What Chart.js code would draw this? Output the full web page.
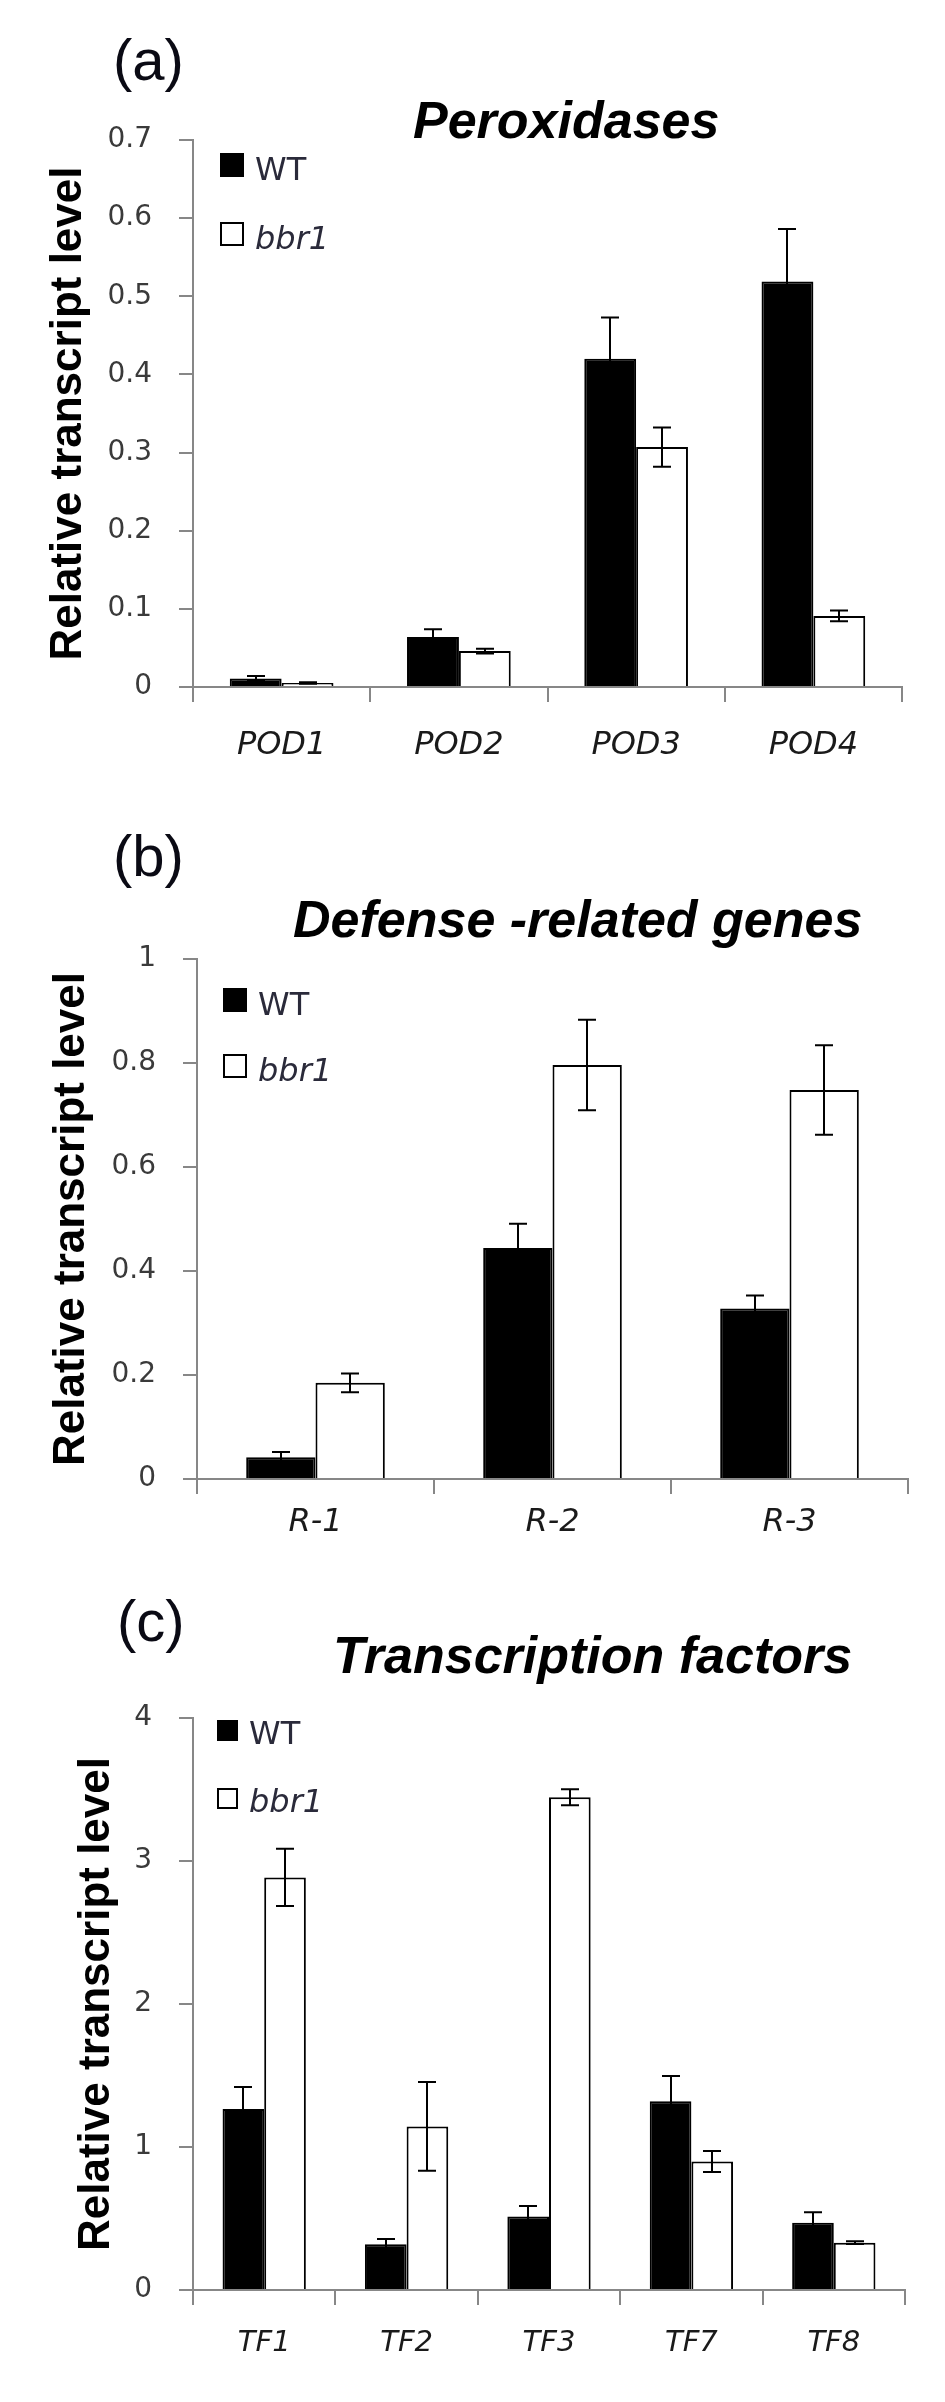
<!DOCTYPE html>
<html>
<head>
<meta charset="utf-8">
<script src="https://cdn.jsdelivr.net/npm/chart.js@4.4.1/dist/chart.umd.min.js"></script>
<style>
  body { margin: 0; background: #ffffff; }
  canvas { position: absolute; left: 0; }
</style>
</head>
<body>
<canvas id="graficaA" width="945" height="780" style="top:0px"></canvas>
<canvas id="graficaB" width="945" height="800" style="top:780px"></canvas>
<canvas id="graficaC" width="945" height="822" style="top:1580px"></canvas>
<script>
// 1. Datos
const series = ['WT', 'bbr1'];

// (a) Peroxidases
const genesPod = ['POD1', 'POD2', 'POD3', 'POD4'];
const wtPod = [0.011, 0.064, 0.420, 0.519];
const wtPodErr = [0.003, 0.010, 0.053, 0.067];
const bbrPod = [0.005, 0.046, 0.307, 0.091];
const bbrPodErr = [0.001, 0.003, 0.025, 0.007];
const ticksPod = ['0', '0.1', '0.2', '0.3', '0.4', '0.5', '0.6', '0.7'];

// (b) Defense-related genes
const genesR = ['R-1', 'R-2', 'R-3'];
const wtR = [0.042, 0.444, 0.328];
const wtRErr = [0.010, 0.047, 0.025];
const bbrR = [0.185, 0.796, 0.748];
const bbrRErr = [0.018, 0.087, 0.086];
const ticksR = ['0', '0.2', '0.4', '0.6', '0.8', '1'];

// (c) Transcription factors
const genesTF = ['TF1', 'TF2', 'TF3', 'TF7', 'TF8'];
const wtTF = [1.265, 0.320, 0.514, 1.320, 0.470];
const wtTFErr = [0.154, 0.037, 0.073, 0.176, 0.073];
const bbrTF = [2.885, 1.144, 3.445, 0.899, 0.331];
const bbrTFErr = [0.200, 0.310, 0.056, 0.073, 0.010];
const ticksTF = ['0', '1', '2', '3', '4'];

const GRIS = '#878787';

// 2. Plugin para las barras de error
const barrasError = {
  id: 'barrasError',
  afterDatasetsDraw(chart, args, opts) {
    const ctx = chart.ctx;
    const ejeY = chart.scales.y;
    const m = opts.tapa / 2;
    ctx.save();
    ctx.strokeStyle = '#000000';
    ctx.lineWidth = 2;
    chart.data.datasets.forEach((ds, i) => {
      const meta = chart.getDatasetMeta(i);
      meta.data.forEach((barra, j) => {
        const v = ds.data[j];
        const e = ds.errores[j];
        const x = Math.round(barra.x);
        const yArriba = ejeY.getPixelForValue(v + e);
        const yAbajo = ejeY.getPixelForValue(Math.max(0, v - e));
        ctx.beginPath();
        ctx.moveTo(x, yArriba); ctx.lineTo(x, yAbajo);
        ctx.moveTo(x - m, yArriba); ctx.lineTo(x + m, yArriba);
        ctx.moveTo(x - m, yAbajo); ctx.lineTo(x + m, yAbajo);
        ctx.stroke();
      });
    });
    ctx.restore();
  }
};

// 3. Plugin para letra del panel, título y leyenda
const decoracion = {
  id: 'decoracion',
  afterDraw(chart, args, o) {
    const ctx = chart.ctx;
    ctx.save();
    ctx.textBaseline = 'alphabetic';
    ctx.textAlign = 'left';

    ctx.fillStyle = '#0a0a14';
    ctx.font = '58px "Liberation Sans"';
    ctx.fillText(o.letra, o.letraX, o.letraY);

    ctx.fillStyle = '#000000';
    ctx.font = 'italic bold 52px "Liberation Sans"';
    ctx.fillText(o.titulo, o.tituloX, o.tituloY);

    // leyenda
    const c = o.cuadro;
    chart.data.datasets.forEach((ds, i) => {
      const y = o.leyendaY[i];
      if (i === 0) {
        ctx.fillStyle = '#000000';
        ctx.fillRect(o.leyendaX, y, c, c);
      } else {
        ctx.fillStyle = '#ffffff';
        ctx.fillRect(o.leyendaX, y, c, c);
        ctx.strokeStyle = '#000000';
        ctx.lineWidth = 2;
        ctx.strokeRect(o.leyendaX + 1, y + 1, c - 2, c - 2);
      }
      ctx.fillStyle = '#2a2a3a';
      ctx.font = (i === 1 ? 'italic ' : '') + '32px "DejaVu Sans"';
      ctx.fillText(ds.label, o.leyendaX + c + 11, y + c + 3);
    });
    ctx.restore();
  }
};

// 4. Función para armar cada panel
function crearPanel(id, p) {
  const lienzo = document.getElementById(id);
  const valoresY = p.ticks.map(t => parseFloat(t));
  return new Chart(lienzo, {
    type: 'bar',
    data: {
      labels: p.genes,
      datasets: [
        { label: series[0], data: p.wt, errores: p.wtErr, backgroundColor: '#000000',
          borderColor: '#000000', borderWidth: 2 },
        { label: series[1], data: p.bbr, errores: p.bbrErr, backgroundColor: '#ffffff',
          borderColor: '#000000', borderWidth: 2 }
      ]
    },
    options: {
      responsive: false,
      animation: false,
      devicePixelRatio: 1,
      categoryPercentage: 0.585,
      barPercentage: 1.0,
      layout: { padding: { top: p.arriba, right: 945 - p.derecha, left: 0, bottom: 0 } },
      plugins: {
        legend: { display: false },
        tooltip: { enabled: false },
        barrasError: { tapa: 18 },
        decoracion: p.deco
      },
      scales: {
        x: {
          ticks: { color: '#1a1a1a', font: { family: 'DejaVu Sans', style: 'italic', size: p.fuenteX }, padding: p.padX },
          grid: { drawOnChartArea: false, offset: true, tickLength: 15, color: GRIS, lineWidth: 2 },
          border: { color: GRIS, width: 2 },
          afterFit: s => { s.height = lienzo.height - p.abajo; }
        },
        y: {
          min: 0,
          max: valoresY[valoresY.length - 1],
          afterBuildTicks: s => { s.ticks = valoresY.map(v => ({ value: v })); },
          ticks: { color: '#3a3a3a', font: { family: 'DejaVu Sans', size: 28 }, padding: 27,
                   callback: (v, i) => p.ticks[i] },
          grid: { drawOnChartArea: false, tickLength: 14, color: GRIS, lineWidth: 2 },
          border: { color: GRIS, width: 2 },
          title: { display: true, text: 'Relative transcript level', color: '#000000',
                   font: { family: 'Liberation Sans', weight: 'bold', size: 44 },
                   padding: { top: p.padTitulo, bottom: 0 } },
          afterFit: s => { s.width = p.izquierda; }
        }
      }
    },
    plugins: [barrasError, decoracion]
  });
}

// 5. Los tres paneles
crearPanel('graficaA', {
  genes: genesPod, wt: wtPod, wtErr: wtPodErr, bbr: bbrPod, bbrErr: bbrPodErr, ticks: ticksPod,
  izquierda: 193, derecha: 902, arriba: 140, abajo: 687,
  fuenteX: 32, padX: 24, padTitulo: 42,
  deco: { letra: '(a)', letraX: 113, letraY: 80, titulo: 'Peroxidases', tituloX: 413, tituloY: 138,
          leyendaX: 220, leyendaY: [153, 222], cuadro: 24 }
});

crearPanel('graficaB', {
  genes: genesR, wt: wtR, wtErr: wtRErr, bbr: bbrR, bbrErr: bbrRErr, ticks: ticksR,
  izquierda: 197, derecha: 908, arriba: 179, abajo: 699,
  fuenteX: 32, padX: 9, padTitulo: 45,
  deco: { letra: '(b)', letraX: 113, letraY: 96, titulo: 'Defense -related genes', tituloX: 293, tituloY: 157,
          leyendaX: 223, leyendaY: [208, 274], cuadro: 24 }
});

crearPanel('graficaC', {
  genes: genesTF, wt: wtTF, wtErr: wtTFErr, bbr: bbrTF, bbrErr: bbrTFErr, ticks: ticksTF,
  izquierda: 193, derecha: 905, arriba: 138, abajo: 710,
  fuenteX: 29, padX: 21, padTitulo: 70,
  deco: { letra: '(c)', letraX: 117, letraY: 61, titulo: 'Transcription factors', tituloX: 333, tituloY: 93,
          leyendaX: 217, leyendaY: [140, 208], cuadro: 21 }
});
</script>
</body>
</html>
